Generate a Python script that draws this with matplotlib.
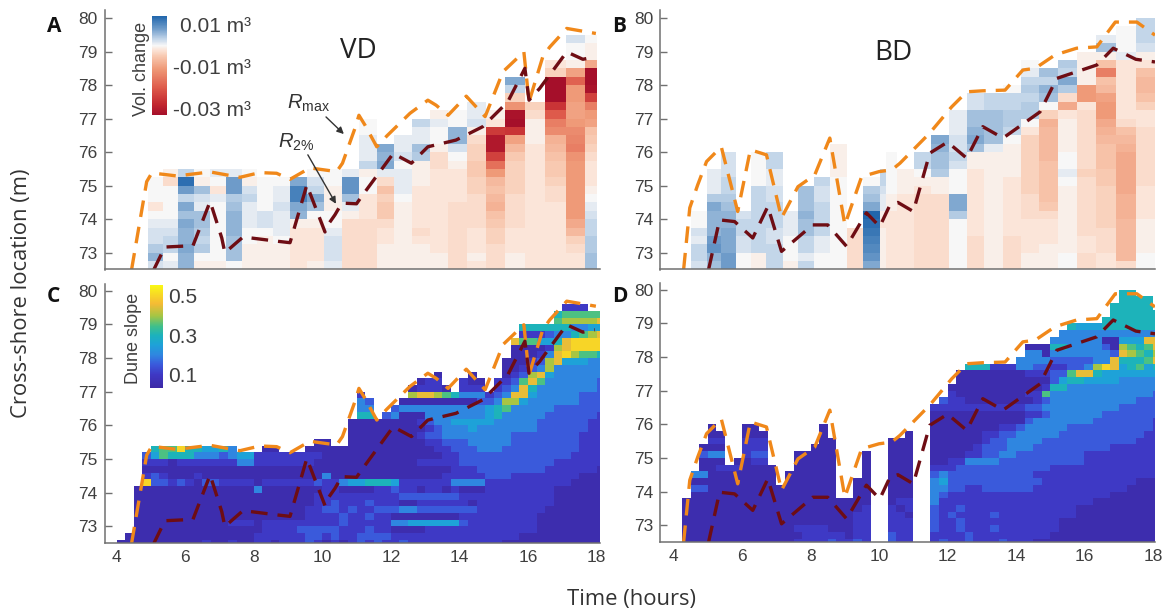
import numpy as np
import matplotlib
matplotlib.use("Agg")
import matplotlib.pyplot as plt
from matplotlib.colors import LinearSegmentedColormap, Normalize

plt.rcParams["font.family"] = ["Liberation Sans", "DejaVu Sans"]
plt.rcParams["mathtext.fontset"] = "custom"
plt.rcParams["mathtext.rm"] = "Liberation Sans"
plt.rcParams["mathtext.it"] = "Liberation Sans:italic"

# runup lines, VD
vd_rmax_t = [4.44, 4.88, 5.03, 5.76, 6.73, 7.6, 8.18, 8.67, 9.06, 9.64, 10.42, 10.59, 10.95, 11.07, 11.25, 11.59,
             11.88, 12.56, 13.08, 13.32, 13.67, 14.2, 14.75, 14.98, 15.27, 15.88, 16.03, 16.43, 16.63, 17.13, 17.98]
vd_rmax = [72.5, 75.12, 75.38, 75.29, 75.41, 75.25, 75.39, 75.37, 75.19, 75.53, 75.42, 75.67, 76.7, 77.1, 76.8, 76.16,
           76.48, 77.16, 77.55, 77.4, 77.1, 77.67, 77.06, 77.65, 78.4, 78.99, 77.5, 78.84, 79.13, 79.69, 79.54]
vd_r2_t = [5.09, 5.41, 6.23, 6.73, 7.07, 7.16, 7.69, 8.71, 9.06, 9.55, 10.08, 10.13, 10.37, 10.57, 11.0, 11.15,
           12.07, 12.6, 13.08, 13.9, 14.68, 15.41, 15.91, 16.03, 16.34, 17.13, 17.6, 17.95]
vd_r2 = [72.5, 73.17, 73.21, 74.53, 73.44, 73.0, 73.47, 73.34, 73.3, 75.02, 73.62, 73.78, 74.13, 74.48, 74.46, 74.68,
         75.96, 75.67, 76.16, 76.36, 76.76, 77.5, 78.5, 77.55, 77.9, 78.99, 78.77, 78.84]

# runup lines, BD
bd_rmax_t = [4.29, 4.47, 4.7, 4.96, 5.39, 5.87, 6.24, 6.71, 7.15, 7.63, 8.12, 8.56, 9.0, 9.49, 10.0, 10.37, 10.61,
             11.48, 12.12, 12.56, 13.03, 13.68, 14.2, 14.56, 15.14, 15.77, 16.36, 16.9, 17.53, 18.06]
bd_rmax = [72.5, 74.34, 75.02, 75.72, 76.16, 74.23, 76.07, 75.92, 74.04, 74.97, 75.32, 76.42, 73.83, 75.27, 75.42,
           75.47, 75.67, 76.57, 77.35, 77.8, 77.83, 77.85, 78.45, 78.5, 78.9, 79.1, 79.14, 79.88, 79.88, 79.49]
bd_r2_t = [5.02, 5.34, 5.78, 6.31, 6.75, 7.15, 8.06, 8.5, 9.05, 9.63, 10.02, 10.32, 10.55, 11.0, 11.48, 12.0, 12.56,
           13.03, 13.62, 14.7, 15.19, 16.36, 16.84, 17.5, 18.06]
bd_r2 = [72.5, 73.98, 73.93, 73.44, 74.38, 73.04, 73.83, 73.83, 73.19, 74.19, 73.78, 74.43, 74.5, 74.23, 75.97, 76.3,
         75.82, 76.76, 76.42, 77.2, 78.2, 78.6, 79.1, 78.77, 78.69]

# volume change per survey interval, 0.001 m3, lowest cell first, 0.25 m cells
vd_edges = [4.91, 5.36, 5.80, 6.26, 6.73, 7.18, 7.65, 8.10, 8.57, 9.06, 9.55, 10.04, 10.57, 11.08, 11.59, 12.10,
            12.62, 13.15, 13.68, 14.22, 14.77, 15.33, 15.91, 16.51, 17.10, 17.66, 18.0]
vd_vol = [
    [2, 6, 4, 2, 2, 1, 0, -2, 0, 0, 0],
    [1, 0, 3, 3, 2, 1, 0, 0, 0, 0, -3, -1],
    [6, 6, 7, 6, 6, 7, 5, 7, 3, 8, 13, 3],
    [-1, 0, 4, 3, 4, 5, 5, 1, 2, 5, -1, 0],
    [-1, 0, 0, 0, 0, 0, 0, 0, 1, -2, 0, 1],
    [0, 5, 5, 5, 6, 6, 6, 5, 4, 8, 8, 1],
    [-1, -1, -1, 0, 0, 1, 1, 1, 3, 2, -1, 0],
    [-1, -1, -1, -1, 0, 2, 2, 0, 0, 0, 0],
    [-1, -1, -1, 0, 1, 1, 1, 2, 1, 1, 0],
    [-2, -2, -2, -2, -2, -1, 6, 7, 11, 11, 7],
    [-1, -2, -2, -2, -2, -1, 0, 5, 7, 3, 2, 0],
    [1, 2, 2, 2, 1, 0, 0, -1, -1, -1, 0, 0],
    [-3, -3, -3, -3, -3, -3, -1, 1, 5, 9, 9, 1],
    [-3, -3, -3, -3, -3, -3, -2, -2, -2, 0, 0, -1, 3, 1, 1, 1, 0, 0],
    [-1, -1, -1, -2, -2, -3, -5, -5, -4, -6, -3, 1, 7, 6, 7],
    [-1, -1, -1, -1, -1, -1, -1, -1, 0, 1, 1, 1, 0, 2, 1, 1],
    [-1, -1, -1, -2, -3, -2, -2, -2, -2, -2, -1, -1, -1, 4, 5, 1, 1, 3],
    [-1, -1, -2, -2, -2, -2, -2, -2, -2, -2, -2, -2, -3, -3, -1, 0, 0, 1, -1],
    [-3, -3, -3, -3, -3, -3, -3, -3, -2, -2, -2, -2, -1, 0, 2, 6, 6, 0, 0],
    [-2, -1, -2, -2, -2, -3, -3, -3, -3, -4, -4, -5, -5, -4, -4, -3, -1, 2, 1, 1],
    [-3, -3, -3, -4, -4, -5, -6, -8, -7, -6, -7, -11, -17, -24, -31, -31, -25, -2, -1],
    [-1, -1, -2, -2, -2, -3, -3, -3, -3, -4, -4, -4, -4, -5, -7, -10, -26, -33, -32, -12, -4, 3, 7],
    [-2, -2, -2, -2, -2, -2, -2, -2, -2, -2, -2, -2, -2, -2, -2, -1, -1, -1, -3, -4],
    [-2, -2, -2, -2, -2, -2, -2, -2, -3, -3, -4, -5, -5, -6, -7, -8, -13, -15, -20, -26, -33, -33, -33, -4, -2],
    [-2, -2, -3, -4, -7, -9, -11, -11, -11, -11, -11, -11, -11, -12, -15, -14, -13, -11, -10, -10, -11, -11, -19, -10, -1, 0, 0, 2],
    [5, 5, 4, 4, 3, 3, 2, 1, 0, -1, -2, -2, -2, -3, -4, -5, -6, -10, -11, -15, -24, -32, -33, -33, -9, -1, -1, 0],
]

bd_edges = [4.52, 4.96, 5.39, 5.83, 6.27, 6.71, 7.18, 7.63, 8.09, 8.56, 9.05, 9.54, 10.02, 10.2, 10.53, 11.03, 11.53,
            12.04, 12.56, 13.07, 13.61, 14.14, 14.68, 15.22, 15.77, 16.34, 16.92, 17.5, 18.06]
bd_vol = [
    [2, 3, 3, 1, 2, 0, 0],
    [5, 6, 9, 8, 6, 6, 6, 7, 4, 1, 1, 1],
    [8, 8, 7, 7, 7, 6, 6, 5, 4, 3, 3, 2, 2, 2],
    [0, 0, 2, 2, 3, 3, 2],
    [-1, -1, 3, 3, 3, 3, 3, 3, 3, 3, 0, 0, 0, 0],
    [3, 3, 3, 2, 2, 3, 3, 3, 2, 2, 1, 1, 3, 3],
    [-1, 0, 0, 0, 1, 1, 1],
    [3, 1, 3, 3, 5, 5, 6, 5, 5, 5],
    [0, 0, 1, 1, 3, 3, 3, 3, 2, 2, 3],
    [0, 0, 0, 0, 0, 0, 0, 0, 0, 0, 0, -1, -1, -1, -1],
    [-3, -3, -3, -3, -3],
    [7, 9, 10, 11, 12, 13, 14, 7, 5, 4, 0],
    [-1, -1, -1, -1, -1, -2, -1, 1, 1, 2, 3, 3],
    [-2, -2, -2, -2, -2, -2, -2, -1, -1, 0, 0, 0, 0, 0],
    [-2, -2, -2, -2, -2, -2, -2, -2, -2, -1, -1, -1],
    [-3, -3, -3, -3, -3, -3, -3, -3, -3, -2, -1, 0, 3, 3],
    [-3, -3, -3, -3, -3, -3, -3, -3, -3, -1, -1, 4, 5, 5, 6, 7],
    [0, 0, 0, 0, 0, 0, 4, 7, 7, 0, 0, 0, 2, 3, 2, 2, 1, 1, 1],
    [-3, -3, -3, -3, -2, -2, -2, -2, -2, -2, -2, -2, -1, -1, 5, 7, 6, 5, 5, 2, 2],
    [-1, -1, -1, -1, -1, -1, -1, -1, -1, -1, -1, -1, -1, -1, 1, 5, 5, 5, 5, 3, 3],
    [-3, -3, -3, -3, -2, -2, -2, -2, -2, -2, -2, -1, -1, -1, -1, 0, 3, 4, 4, 3, 3, 0],
    [-1, -1, -2, -2, -2, -2, -3, -3, -3, -4, -4, -4, -4, -4, -4, -4, -2, 0, 4, 4, 3, 4, 3, 1, 0],
    [-1, -1, -1, -2, -2, -2, -3, -5, -6, -6, -6, -6, -6, -7, -7, -7, -7, -8, -4, 0, 5, 6, 3, 5],
    [0, 0, -1, -1, -1, -1, -1, -1, -1, -1, 0, 1, 0, 0, -1, -1, -1, -1, -2, -9, -3, 4, 7, 3, 4],
    [-3, -3, -2, -2, -3, -3, -3, -3, -3, -3, -3, -4, -3, -3, -3, -3, -3, -3, -3, -2, -11, -11, -1, -1, -1, -1],
    [-2, -2, -3, -3, -3, -4, -4, -4, -4, -4, -5, -5, -6, -6, -6, -7, -8, -9, -11, -11, -10, -7, -6, -15, -6, -1, 5, 1],
    [-3, -7, -7, -7, -7, -7, -8, -8, -8, -9, -9, -9, -9, -9, -8, -7, -6, -3, -2, -2, -2, -2, -2, -2, -2, 1, 0, 0, 0],
    [0, 0, -1, -1, -1, -1, -2, -2, -2, -2, -3, -3, -3, -3, -3, -3, -3, -2, -2, -4, -6, -7, -7, -6, -2, -1, 2, 3, 3, 3],
]

# dune slope read off per quarter hour (one group = one hour, 4h to 18h), top row first
# digit d means a slope of 0.05 + d * 0.05, a dot means no data
slope_edges_y_start = 72.4
slope_cell_y = 0.2
slope_cell_t = 0.25
vd_slope = [
    ".... .... .... .... .... .... .... .... .... .... .... .... .... .... .",
    ".... .... .... .... .... .... .... .... .... .... .... .... .... .... .",
    ".... .... .... .... .... .... .... .... .... .... .... .... .... 111. .",
    ".... .... .... .... .... .... .... .... .... .... .... .... ...5 6666 6",
    ".... .... .... .... .... .... .... .... .... .... .... .... ...6 7777 8",
    ".... .... .... .... .... .... .... .... .... .... .... ...5 5555 5334 4",
    ".... .... .... .... .... .... .... .... .... .... .... ...1 1123 3567 8",
    ".... .... .... .... .... .... .... .... .... .... .... ..86 6445 8999 9",
    ".... .... .... .... .... .... .... .... .... .... .... ..00 0017 8999 9",
    ".... .... .... .... .... .... .... .... .... .... .... ..00 0138 9766 5",
    ".... .... .... .... .... .... .... .... .... .... .... .000 1278 4443 3",
    ".... .... .... .... .... .... .... .... .... .... .... .001 2373 3333 3",
    ".... .... .... .... .... .... .... .... .... .0.. .0.. .012 7843 3333 3",
    ".... .... .... .... .... .... .... .... ...0 11.. 100. 1126 8633 3333 2",
    ".... .... .... .... .... .... .... .... ..01 110. 111. 1238 5333 3333 2",
    ".... .... .... .... .... .... .... 1... ..78 8765 3331 2388 4333 3322 2",
    ".... .... .... .... .... .... .... 32.. .000 0000 0022 3774 3333 3322 2",
    ".... .... .... .... .... .... .... 33.. 2333 3333 3334 5633 3332 2222 2",
    ".... .... .... .... .... .... .... 55.2 3000 3333 3334 5333 3322 2222 1",
    ".... .... .... .... .... .... ...0 0000 0001 2334 4444 3333 3222 2221 1",
    ".... .... .... .... .... .... ...0 0000 0000 1233 3433 3333 3222 2221 1",
    ".... .... .... .... .... .... ...0 0000 0001 2233 3333 3322 2222 2211 1",
    ".... .... .... .... .... ...0 0..0 0000 0000 1122 2333 3322 2222 2211 1",
    ".... 5669 5544 53.. .00. ..00 0000 0000 0000 0112 2233 3222 2222 2211 1",
    "...2 4655 5333 2344 1111 1111 0000 0000 0000 0011 2222 2222 2222 2111 1",
    "...1 1101 1111 1133 1111 1110 0000 0000 0001 1111 2222 2222 2221 1111 1",
    "...0 0000 0000 0000 0000 0000 0000 0000 0000 0001 1122 2222 2211 1111 0",
    "...1 2100 0100 0000 0000 0000 3000 0000 0000 0011 1112 2211 1111 1100 0",
    "...9 2212 1022 1111 0111 1112 1134 4555 4111 1113 3331 1111 1111 1000 0",
    "..00 0000 0000 0000 3000 0000 1100 0011 2110 1101 0001 1111 1110 0000 0",
    "..00 0000 0000 0000 0000 0001 1111 1111 1222 2222 1111 1111 1110 0000 0",
    "..00 0000 0000 0000 0000 0001 1211 1211 1001 1111 1011 1111 1110 0000 0",
    "..00 0000 0000 0000 0000 0011 2212 1122 2332 2222 2211 1111 1100 0000 0",
    "..00 0000 0000 0000 0000 0011 1121 1211 0000 0000 1111 1111 1000 0000 0",
    "..00 0000 0000 0111 0111 1111 1121 1111 3344 4444 2111 1111 1000 0000 0",
    "..00 0000 0000 0000 0111 1222 2211 1211 0000 1111 1111 1111 1000 0000 0",
    ".000 0000 0000 0000 1111 1122 1211 2222 1111 1111 1111 1110 0000 0000 0",
    "0000 0000 0010 0100 1101 1121 0101 2121 1211 1111 1111 1000 0000 0000 0",
]
bd_slope = [
    ".... .... .... .... .... .... .... .... .... .... .... .... .... 55.. .",
    ".... .... .... .... .... .... .... .... .... .... .... .... .... 5555 .",
    ".... .... .... .... .... .... .... .... .... .... .... .... ...5 5555 .",
    ".... .... .... .... .... .... .... .... .... .... .... .... ...5 5555 5",
    ".... .... .... .... .... .... .... .... .... .... .... .... ..55 5555 5",
    ".... .... .... .... .... .... .... .... .... .... .... ..54 4455 5555 5",
    ".... .... .... .... .... .... .... .... .... .... .... .333 3333 3333 3",
    ".... .... .... .... .... .... .... .... .... .... .... 3333 3300 4448 8",
    ".... .... .... .... .... .... .... .... .... .... .000 5533 3320 7656 8",
    ".... .... .... .... .... .... .... .... .... .... .330 3333 3332 8765 7",
    ".... .... .... .... .... .... .... .... .... .... 3333 2222 2338 5556 8",
    ".... .... .... .... .... .... .... .... ..55 5111 3322 1122 3798 4564 5",
    ".... .... .... .... .... .... .... .... .000 0000 0111 2268 8544 4444 4",
    ".... .... .... .... .... .... .... .... .000 0000 0000 2455 4444 3333 3",
    ".... .... .... .... .... .... .... .... 0000 0000 0001 5533 3333 3333 3",
    ".... .... .... .... .... .... .... .... 1000 0000 0116 3333 3333 3333 2",
    ".... .... .... .... .... .... .... ...2 1100 0000 0012 3333 3333 3322 2",
    ".... .... .... .... .... .... .... ..11 1111 1111 1223 3333 3333 2222 2",
    ".... .... .... .... .... .... .... ..00 0000 0000 0112 3333 3322 2222 2",
    ".... .... .... .... .... .... .... ..00 0000 0000 0233 3333 3222 2222 1",
    ".... 0... 00.. .... .0.. .... .... ..00 0000 0011 2333 3322 2222 2222 1",
    ".... 00.. 000. .... .0.. .... ...0 ..00 0000 1122 3333 3222 2222 2221 1",
    ".... 11.. 111. .... .00. .... .000 ..00 0000 1223 3332 2222 2222 2211 1",
    "...0 00.. 111. .... 000. .... .000 ..00 0001 2223 3322 2222 2221 1111 1",
    "...2 33.. 122. ..00 000. ..0. .000 ..00 0011 2233 2222 2222 1111 1111 1",
    "...0 00.0 011. ..00 000. ..0. .000 ..00 1133 3322 2222 2222 1111 1111 1",
    "...0 0111 0000 ..00 000. ..0. .000 ..11 1222 2222 2222 1111 1111 1111 1",
    "..33 0000 0000 .000 000. ..0. .000 ..23 2222 2222 2211 1111 1111 1111 1",
    "..00 0000 0000 .000 000. .00. .000 ..34 2222 2222 2221 1111 1111 1100 0",
    "..22 0000 0000 0000 000. .00. .000 ..33 2211 2222 2211 1111 1111 1000 0",
    "..00 0000 0000 0000 000. .00. .000 ..32 1111 1111 1111 1111 1110 0000 0",
    ".000 0000 0000 0000 0000 000. .011 ..31 1111 1111 1111 1111 1000 0000 0",
    ".000 0000 0000 0000 0000 001. .101 ..21 1211 1111 1111 1110 0000 0000 0",
    ".000 0000 0000 0000 0000 011. .110 ..21 2111 1211 1111 1110 0000 0000 0",
    ".000 0000 0000 0000 0000 011. .111 ..21 1211 1111 1111 1000 0000 0000 0",
    ".000 0000 0000 0011 1100 011. .111 ..21 1211 1211 1111 1000 0000 0000 0",
    ".000 0000 0000 0001 1111 011. .211 ..11 1121 1111 1111 0000 0000 0000 0",
    ".000 0000 0000 0011 1121 121. .211 ..12 1121 1121 1100 0000 0000 0000 0",
]

vd_xticks = [4, 6, 8, 10, 12, 14, 16, 18]
yticks = [73, 74, 75, 76, 77, 78, 79, 80]

vol_cmap = LinearSegmentedColormap.from_list("vol", [
    (0.0, "#a50f2a"), (5 / 47, "#c2272f"), (13 / 47, "#de5b4b"), (22 / 47, "#ef9a78"), (28 / 47, "#f8c9b1"),
    (31 / 47, "#fbe5d9"), (33 / 47, "#f7f7f7"), (36 / 47, "#c5d7ea"), (41 / 47, "#6f9cca"), (1.0, "#2166ac")])
vol_norm = Normalize(-33, 14)
parula = LinearSegmentedColormap.from_list("parula", [
    (0.0, "#3d29a6"), (0.13, "#3e38c4"), (0.23, "#3a5bdc"), (0.32, "#2f86e0"), (0.42, "#1ea2d8"),
    (0.51, "#1cb2bc"), (0.6, "#40c08a"), (0.7, "#a4c544"), (0.82, "#f5bb35"), (1.0, "#f9f815")])
slope_norm = Normalize(0.03, 0.555)

W, H = 1167, 613
text_grey = "#3f3f3f"
fig = plt.figure(figsize=(W / 100, H / 100), dpi=100)


def px_axes(x0, y0, x1, y1):
    return fig.add_axes([x0 / W, 1 - y1 / H, (x1 - x0) / W, (y1 - y0) / H])


def style_axes(ax, xlim, ylim, xlabels):
    ax.set_xlim(*xlim)
    ax.set_ylim(*ylim)
    ax.set_yticks(yticks)
    ax.set_xticks(vd_xticks)
    ax.tick_params(axis="y", direction="in", length=5, width=1, color="#707070", labelcolor=text_grey,
                   labelsize=12.5, pad=5)
    ax.tick_params(axis="x", length=0, labelcolor=text_grey, labelsize=12.5, pad=5, labelbottom=xlabels)
    ax.patch.set_alpha(0)
    for side in ["top", "right"]:
        ax.spines[side].set_visible(False)
    for side in ["left", "bottom"]:
        ax.spines[side].set_color("#707070")
        ax.spines[side].set_linewidth(1.1)


def draw_vol(ax, edges, columns):
    rows = max(len(c) for c in columns)
    grid = np.full((rows, len(columns)), np.nan)
    for i, col in enumerate(columns):
        grid[: len(col), i] = col
    y_edges = 72.5 + 0.25 * np.arange(rows + 1)
    return ax.pcolormesh(edges, y_edges, np.ma.masked_invalid(grid), cmap=vol_cmap, norm=vol_norm)


def draw_slope(ax, rows):
    chars = [list(r.replace(" ", "")) for r in rows[::-1]]
    grid = np.full((len(chars), len(chars[0])), np.nan)
    for r, row in enumerate(chars):
        for c, ch in enumerate(row):
            if ch != ".":
                grid[r, c] = 0.05 + int(ch) * 0.05
    y_edges = slope_edges_y_start + slope_cell_y * np.arange(len(chars) + 1)
    t_edges = 4 + slope_cell_t * np.arange(len(chars[0]) + 1)
    t_edges[-1] = 18.1
    return ax.pcolormesh(t_edges, y_edges, np.ma.masked_invalid(grid), cmap=parula, norm=slope_norm)


def draw_lines(ax, rmax_t, rmax, r2_t, r2):
    ax.plot(rmax_t, rmax, color="#f0881a", lw=2.4, dashes=(5, 3), dash_capstyle="butt", clip_on=True)
    ax.plot(r2_t, r2, color="#6e0d14", lw=2.4, dashes=(5, 3), dash_capstyle="butt", clip_on=True)


ax_a = px_axes(104.5, 10, 600, 269.5)
ax_b = px_axes(660, 10, 1155, 269.5)
ax_c = px_axes(104.5, 284, 600, 543.3)
ax_d = px_axes(660, 283, 1155, 542)

mesh_vol = draw_vol(ax_a, vd_edges, vd_vol)
draw_vol(ax_b, bd_edges, bd_vol)
mesh_slope = draw_slope(ax_c, vd_slope)
draw_slope(ax_d, bd_slope)

draw_lines(ax_a, vd_rmax_t, vd_rmax, vd_r2_t, vd_r2)
draw_lines(ax_c, vd_rmax_t, vd_rmax, vd_r2_t, vd_r2)
draw_lines(ax_b, bd_rmax_t, bd_rmax, bd_r2_t, bd_r2)
draw_lines(ax_d, bd_rmax_t, bd_rmax, bd_r2_t, bd_r2)

style_axes(ax_a, (3.65, 18.1), (72.5, 80.24), False)
style_axes(ax_b, (3.6, 18.06), (72.5, 80.24), False)
style_axes(ax_c, (3.65, 18.1), (72.5, 80.2), True)
style_axes(ax_d, (3.6, 18.06), (72.5, 80.2), True)

# colourbars
cax_vol = px_axes(152, 16, 167, 115)
cb = fig.colorbar(mesh_vol, cax=cax_vol)
cb.outline.set_visible(False)
cb.set_ticks([-30, -10, 10], labels=["-0.03 m³", "-0.01 m³", "0.01 m³"])
cb.ax.tick_params(length=0, labelsize=15, labelcolor=text_grey, pad=4)
cb.ax.yaxis.get_major_ticks()[2].set_pad(9)

cax_slope = px_axes(150, 285, 163, 388)
cb2 = fig.colorbar(mesh_slope, cax=cax_slope)
cb2.outline.set_visible(False)
cb2.set_ticks([0.1, 0.3, 0.5], labels=["0.1", "0.3", "0.5"])
cb2.ax.tick_params(length=0, labelsize=15, labelcolor=text_grey, pad=4)

fig.text(141 / W, 1 - 69 / H, "Vol. change", rotation=90, ha="center", va="center", fontsize=13, color=text_grey)
fig.text(133 / W, 1 - 338 / H, "Dune slope", rotation=90, ha="center", va="center", fontsize=13, color=text_grey)

# annotations
ax_a.annotate("", xy=(10.63, 76.54), xytext=(10.11, 77.05),
              arrowprops=dict(arrowstyle="-|>", color="#333333", lw=1, shrinkA=0, shrinkB=0))
ax_a.annotate("", xy=(10.4, 74.46), xytext=(9.58, 75.92),
              arrowprops=dict(arrowstyle="-|>", color="#333333", lw=1, shrinkA=0, shrinkB=0))
ax_a.text(8.97, 77.46, r"$\mathit{R}_{\mathrm{max}}$", fontsize=14.5, ha="left", va="center", color="#333333")
ax_a.text(8.7, 76.3, r"$\mathit{R}_{2\%}$", fontsize=14.5, ha="left", va="center", color="#333333")

# titles, panel letters and shared labels in the paper's sans font
for x, y, s in [(54, 26, "A"), (619, 26, "B"), (53, 297, "C"), (620, 297, "D")]:
    fig.text(x / W, 1 - y / H, s, fontsize=15, fontweight="bold", family="Open Sans", ha="center", va="center",
             color="#111111")
fig.text(358 / W, 1 - 51 / H, "VD", fontsize=20, family="Open Sans", ha="center", va="center", color="#222222")
fig.text(893 / W, 1 - 53 / H, "BD", fontsize=20, family="Open Sans", ha="center", va="center", color="#222222")
fig.text(22 / W, 1 - 293 / H, "Cross-shore location (m)", rotation=90, fontsize=15.8, family="Open Sans", ha="center",
         va="center", color="#333333")
fig.text(631 / W, 1 - 599 / H, "Time (hours)", fontsize=15.8, family="Open Sans", ha="center", va="center",
         color="#333333")

fig.savefig("out.png", dpi=100)
plt.close(fig)
